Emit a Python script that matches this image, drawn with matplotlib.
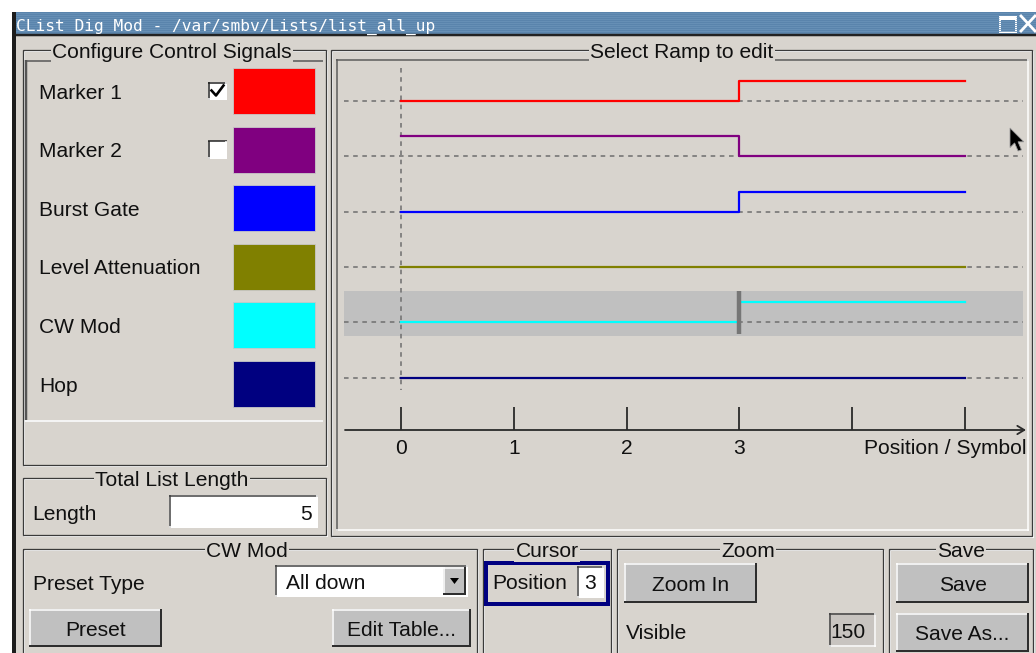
import matplotlib

matplotlib.use("Agg")

import matplotlib.pyplot as plt
import numpy as np
from matplotlib.patches import Polygon, Rectangle

W, H = 1036, 653

window_title = "CList Dig Mod - /var/smbv/Lists/list_all_up"
signal_names = ["Marker 1", "Marker 2", "Burst Gate", "Level Attenuation", "CW Mod", "Hop"]
signal_colors = ["#ff0000", "#800080", "#0000ff", "#808000", "#00ffff", "#000080"]
signal_checked = [True, False, None, None, None, None]

# level per segment: segment k runs from position k to k+1
positions = [0, 1, 2, 3, 4, 5]
marker1_levels = [0, 0, 0, 1, 1]
marker2_levels = [1, 1, 1, 0, 0]
burst_levels = [0, 0, 0, 1, 1]
level_att_levels = [0, 0, 0, 0, 0]
cw_mod_levels = [0, 0, 0, 1, 1]
hop_levels = [0, 0, 0, 0, 0]
all_levels = [marker1_levels, marker2_levels, burst_levels, level_att_levels, cw_mod_levels, hop_levels]

tick_positions = [0, 1, 2, 3, 4, 5]
tick_labels = ["0", "1", "2", "3", "", ""]
axis_label = "Position / Symbol"
selected_row = 4
cursor_position = 3
list_length = 5
preset_type = "All down"
visible_count = 150

BG = "#d8d4ce"
UI = ["Liberation Sans", "DejaVu Sans"]
FS = 15.1
PX = 0.72  # points per pixel at dpi 100

fig = plt.figure(figsize=(W / 100, H / 100), dpi=100)
fig.patch.set_facecolor("white")
ax = fig.add_axes([0, 0, 1, 1])
ax.set_xlim(0, W)
ax.set_ylim(H, 0)
ax.axis("off")


def hline(x0, x1, y, color, w=1.0):
    ax.plot([x0, x1], [y, y], color=color, lw=w * PX, solid_capstyle="butt")


def vline(x, y0, y1, color, w=1.0):
    ax.plot([x, x], [y0, y1], color=color, lw=w * PX, solid_capstyle="butt")


def label(x, cy, s, ha="left", size=FS, color="#101010", family=UI, bg=None):
    em = size * 100 / 72
    kw = {}
    if bg is not None:
        kw["bbox"] = dict(facecolor=bg, edgecolor="none", pad=1.0)
    ax.text(x, cy + 0.36 * em, s, ha=ha, va="baseline", fontsize=size, family=family, color=color, **kw)


def group(x0, y0, x1, y1, title, tx):
    ax.add_patch(Rectangle((x0 + 1.2, y0 + 1.2), x1 - x0, y1 - y0, fill=False, edgecolor="white", lw=PX))
    ax.add_patch(Rectangle((x0, y0), x1 - x0, y1 - y0, fill=False, edgecolor="#3a3a3a", lw=PX * 1.3))
    label(tx, y0, title, ha="center", bg=BG)


def sunken(x0, y0, x1, y1, face="white", dark="#404040"):
    ax.add_patch(Rectangle((x0, y0), x1 - x0, y1 - y0, facecolor=face, edgecolor="none"))
    hline(x0, x1, y0 + 0.7, dark, 1.5)
    vline(x0 + 0.7, y0, y1, dark, 1.5)
    hline(x0, x1, y1 - 0.7, "white", 1.5)
    vline(x1 - 0.7, y0, y1, "white", 1.5)


def button(x0, y0, x1, y1, text):
    ax.add_patch(Rectangle((x0, y0), x1 - x0, y1 - y0, facecolor="#c0c0c0", edgecolor="none"))
    hline(x0, x1, y0 + 0.7, "white", 1.5)
    vline(x0 + 0.7, y0, y1, "white", 1.5)
    hline(x0, x1, y1 - 1, "#2e2e2e", 2)
    vline(x1 - 1, y0, y1, "#2e2e2e", 2)
    label((x0 + x1) / 2, (y0 + y1) / 2, text, ha="center")


# window body and title bar
ax.add_patch(Rectangle((12, 12), W - 12, H - 12, facecolor=BG, edgecolor="none"))
ax.add_patch(Rectangle((12, 12), W - 12, 22, facecolor="#5a84ac", edgecolor="none"))
for y in range(13, 34, 2):
    hline(12, W, y, "#6a92b8", 0.8)
hline(12, W, 35, "#222222", 2.5)
vline(14, 12, H, "#1c1c1c", 4)
label(16, 25, window_title, size=11.7, color="white", family=["DejaVu Sans Mono"])
ax.add_patch(Rectangle((999.5, 16.5), 16, 15, fill=False, edgecolor="white", lw=2 * PX))
hline(999, 1016, 18, "white", 3)
ax.plot([1021, 1035], [16, 31], color="white", lw=2.8 * PX)
ax.plot([1021, 1035], [31, 16], color="white", lw=2.8 * PX)

# Configure Control Signals
group(23, 50, 326, 465, "Configure Control Signals", 172)
vline(25.5, 60, 420, "#555555", 2.5)
hline(25, 323, 61, "#555555", 1.5)
hline(25, 323, 420.5, "#f4f4f4", 2)
for i, (name, col, chk) in enumerate(zip(signal_names, signal_colors, signal_checked)):
    cy = 91 + i * 58.6
    label(39, cy, name)
    ax.add_patch(Rectangle((233, cy - 23), 82, 46, facecolor=col, edgecolor="#c8c8c8", lw=0.6))
    if chk is not None:
        sunken(208, cy - 9, 227, cy + 9, dark="#202020")
        if chk:
            ax.plot([211.5, 216, 223.5], [cy - 0.5, cy + 4.5, cy - 5.5], color="black", lw=2.6 * PX)

# Total List Length
group(23, 478, 326, 535, "Total List Length", 172)
label(32, 512, "Length")
sunken(169, 495, 318, 528)
label(312, 512, str(list_length), ha="right")

# Select Ramp to edit
group(331, 50, 1032, 536, "Select Ramp to edit", 682)
sunken(336, 59, 1029, 531, face=BG, dark="#5a5a5a")

# bottom groups
group(23, 549, 477, 670, "CW Mod", 247)
label(33, 582, "Preset Type")
sunken(275, 565, 468, 597)
label(286, 581, preset_type)
button(443, 567, 466, 595, "")
ax.add_patch(Polygon([[450, 578], [459, 578], [454.5, 584]], closed=True, facecolor="black"))
button(29, 609, 162, 647, "Preset")
button(332, 609, 471, 647, "Edit Table...")

group(483, 549, 611, 670, "Cursor", 547)
ax.add_patch(Rectangle((485.5, 562.5), 122, 41, fill=False, edgecolor="#000080", lw=4 * PX))
label(492, 581, "Position")
sunken(577, 566, 604, 598)
label(590.5, 581, str(cursor_position), ha="center")

group(617, 549, 883, 670, "Zoom", 748)
button(624, 563, 757, 603, "Zoom In")
label(626, 631, "Visible")
sunken(829, 613, 876, 647, face="#c8c4c0")
label(848, 630, str(visible_count), ha="center")

group(889, 549, 1033, 670, "Save", 961)
button(896, 563, 1029, 603, "Save")
button(896, 613, 1029, 652, "Save As...")

# mouse pointer
tip = np.array([1010, 128])
shape = np.array([[0, 0], [0, 17], [4, 13], [7, 20], [10, 19], [7, 12], [12, 12]]) * 1.15
ax.add_patch(Polygon(tip + shape, closed=True, facecolor="black", edgecolor="#9a9a9a", lw=0.6))

# ramp plot: pixel frame and data mapping
X0PX, XSTEP = 401, 112.8
Y0PX, YSTEP = 101, 55.3
L, R, T, B = 337, 1029, 62, 530
pax = fig.add_axes([L / W, 1 - B / H, (R - L) / W, (B - T) / H])
pax.set_xlim((L - X0PX) / XSTEP, (R - X0PX) / XSTEP)
pax.set_ylim((B - Y0PX) / YSTEP, (T - Y0PX) / YSTEP)
pax.axis("off")
pax.patch.set_alpha(0)


def dx(px):
    return (px - X0PX) / XSTEP


def dy(px):
    return (px - Y0PX) / YSTEP


amp = 20 / YSTEP
band_top, band_bot = selected_row - 31 / YSTEP, selected_row + 14 / YSTEP
pax.add_patch(Rectangle((dx(344), band_top), dx(1023) - dx(344), band_bot - band_top,
                        facecolor="#c0c0c0", edgecolor="none", zorder=1))

for i in range(len(all_levels)):
    pax.plot([dx(344), dx(1023)], [i, i], color="#6e6e6e", lw=1.1, dashes=(3, 3), zorder=2)
pax.plot([0, 0], [dy(68), dy(390)], color="#6e6e6e", lw=1.1, dashes=(3, 3), zorder=2)

for i, (lev, col) in enumerate(zip(all_levels, signal_colors)):
    y = i - amp * np.array(lev + [lev[-1]])
    pax.step(positions, y, where="post", color=col, lw=1.6, zorder=3)

pax.plot([cursor_position, cursor_position], [band_top, band_bot - 2 / YSTEP], color="#767676", lw=3.2,
         solid_capstyle="butt", zorder=4)

axis_y = dy(430)
pax.annotate("", xy=(dx(1026), axis_y), xytext=(dx(345), axis_y),
             arrowprops=dict(arrowstyle="->,head_length=0.5,head_width=0.3", color="#2a2a2a", lw=1.3,
                             shrinkA=0, shrinkB=0))
pax.vlines(tick_positions, dy(407), axis_y, color="#2a2a2a", lw=1.3)
base_off = 0.36 * FS * 100 / 72 / YSTEP
for p, t in zip(tick_positions, tick_labels):
    if t:
        pax.text(p, dy(446) + base_off, t, ha="center", va="baseline", fontsize=FS, family=UI, color="#101010")
pax.text(dx(1026), dy(446) + base_off, axis_label, ha="right", va="baseline",
         fontsize=FS, family=UI, color="#101010")

fig.savefig("out.png", dpi=100, facecolor=fig.get_facecolor())
